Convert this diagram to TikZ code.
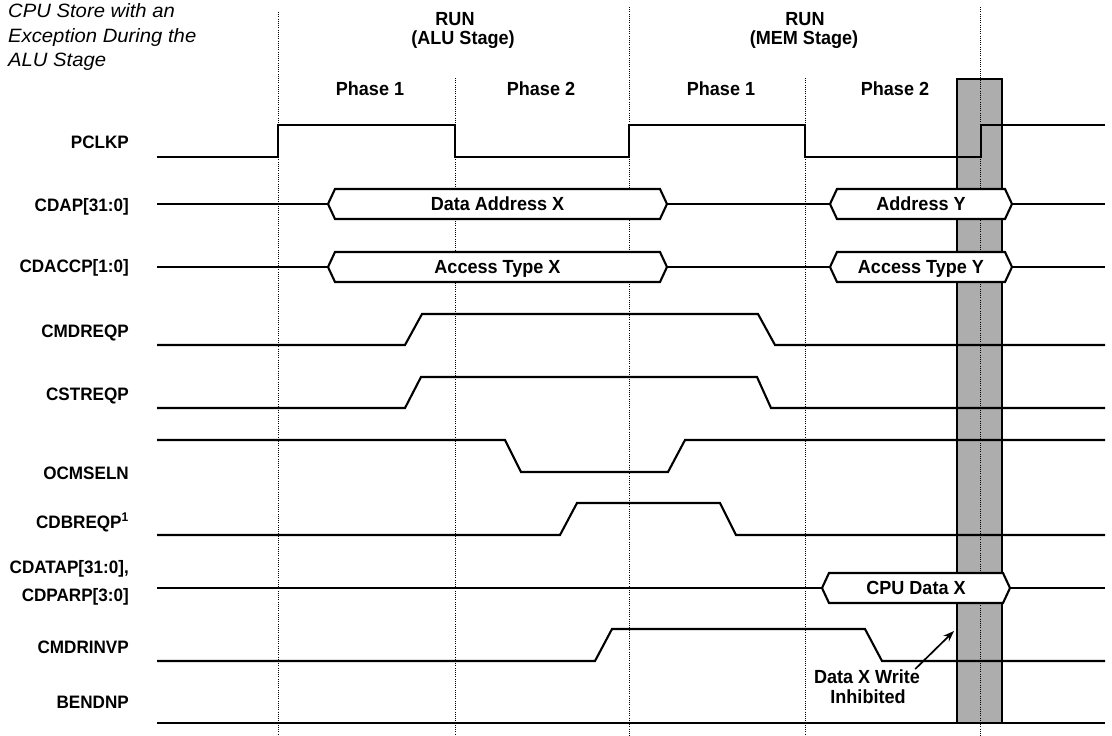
\documentclass[tikz,border=0pt]{standalone}
\usepackage{fontspec}
\setmainfont{Liberation Sans}[FakeStretch=0.95]
\newfontfamily\titlefont{Liberation Sans}[FakeStretch=1.05]
\usetikzlibrary{arrows.meta}
\newcommand\busval[5]{% name, y, x1, x2, text
  \draw[sig,fill=white] (#3,#2) -- (#3+7,#2-15) -- (#4-7,#2-15) -- (#4,#2) -- (#4-7,#2+15) -- (#3+7,#2+15) -- cycle;
  \node[btxt,anchor=base] (#1) at ({(#3+#4)/2},#2+6) {#5};}
\begin{document}
\begin{tikzpicture}[x=1pt,y=-1pt,
  sig/.style={line width=2.1pt},
  dots/.style={line width=1pt, dash pattern=on 1pt off 1.2pt},
  txt/.style={font=\fontsize{18}{20}\selectfont\bfseries, inner sep=0pt},
  btxt/.style={font=\fontsize{19}{21}\selectfont\bfseries, inner sep=0pt},
  lbl/.style={txt, anchor=base east},
  hdr/.style={btxt, anchor=base},
  ttl/.style={font=\fontsize{19.3}{21}\selectfont\titlefont\itshape, inner sep=0pt, anchor=base west},
  shade/.style={line width=2.2pt, fill=black!32}]
\useasboundingbox (0,0) rectangle (1112,736);

% title
\node[ttl] (t1) at (8,17) {CPU Store with an};
\node[ttl] (t2) at (8,42) {Exception During the};
\node[ttl] (t3) at (8,66) {ALU Stage};

% header
\node[hdr] (run1) at (455,25) {RUN};
\node[hdr] (stg1) at (463,45) {(ALU Stage)};
\node[hdr] (run2) at (805,25) {RUN};
\node[hdr] (stg2) at (804,45) {(MEM Stage)};
\node[hdr] (ph11) at (370,95) {Phase 1};
\node[hdr] (ph12) at (541,95) {Phase 2};
\node[hdr] (ph21) at (721,95) {Phase 1};
\node[hdr] (ph22) at (895,95) {Phase 2};

% shaded inhibit window
\draw[shade] (957,79) rectangle (1002,723);

% dotted guides
\draw[dots] (278,12) -- (278,736);
\draw[dots] (455,78) -- (455,736);
\draw[dots] (629,7) -- (629,736);
\draw[dots] (805,78) -- (805,736);
\draw[dots] (980,7) -- (980,736);

% signal names
\node[lbl] (nPCLKP) at (129,148) {PCLKP};
\node[lbl] (nCDAP) at (129,211) {CDAP[31:0]};
\node[lbl] (nCDACCP) at (129,272) {CDACCP[1:0]};
\node[lbl] (nCMDREQP) at (129,337) {CMDREQP};
\node[lbl] (nCSTREQP) at (129,400) {CSTREQP};
\node[lbl] (nOCMSELN) at (129,479) {OCMSELN};
\node[lbl] (nCDBREQP) at (129,528) {CDBREQP\textsuperscript{1}};
\node[lbl] (nCDATAP) at (129,573) {CDATAP[31:0],};
\node[lbl] (nCDPARP) at (129,601) {CDPARP[3:0]};
\node[lbl] (nCMDRINVP) at (129,653) {CMDRINVP};
\node[lbl] (nBENDNP) at (129,708) {BENDNP};

% PCLKP
\draw[sig] (157,157) -- (278,157) -- (278,125) -- (455,125) -- (455,157) -- (629,157) -- (629,125) -- (805,125) -- (805,157) -- (981,157) -- (981,125) -- (1105,125);

% CDAP
\draw[sig] (157,204) -- (328,204);
\busval{bA}{204}{328}{667}{Data Address X}
\draw[sig] (667,204) -- (830,204);
\busval{bB}{204}{830}{1012}{Address Y}
\draw[sig] (1012,204) -- (1105,204);

% CDACCP
\draw[sig] (157,267) -- (328,267);
\busval{bC}{267}{328}{667}{Access Type X}
\draw[sig] (667,267) -- (830,267);
\busval{bD}{267}{830}{1012}{Access Type Y}
\draw[sig] (1012,267) -- (1105,267);

% CMDREQP
\draw[sig] (157,345) -- (405,345) -- (422,314) -- (758,314) -- (775,345) -- (1105,345);
% CSTREQP
\draw[sig] (157,408) -- (405,408) -- (421,377) -- (757,377) -- (771,408) -- (1105,408);
% OCMSELN
\draw[sig] (157,440) -- (505,440) -- (521,472) -- (668,472) -- (685,440) -- (1105,440);
% CDBREQP
\draw[sig] (157,535) -- (560,535) -- (577,503) -- (720,503) -- (736,535) -- (1105,535);
% CDATAP
\draw[sig] (157,588) -- (822,588);
\busval{bE}{588}{822}{1010}{CPU Data X}
\draw[sig] (1010,588) -- (1105,588);
% CMDRINVP
\draw[sig] (157,661) -- (595,661) -- (612,629) -- (865,629) -- (882,661) -- (1105,661);
% BENDNP
\draw[sig] (157,723) -- (1105,723);

% annotation
\node[hdr] (ann1) at (867,683) {Data X Write};
\node[hdr] (ann2) at (868,703) {Inhibited};
\coordinate (tip) at (954,631);
\draw[line width=1.7pt, -{Stealth[length=11pt,width=8pt]}] (ann1.north east) ++(-5,0) -- (tip);
\end{tikzpicture}
\end{document}
